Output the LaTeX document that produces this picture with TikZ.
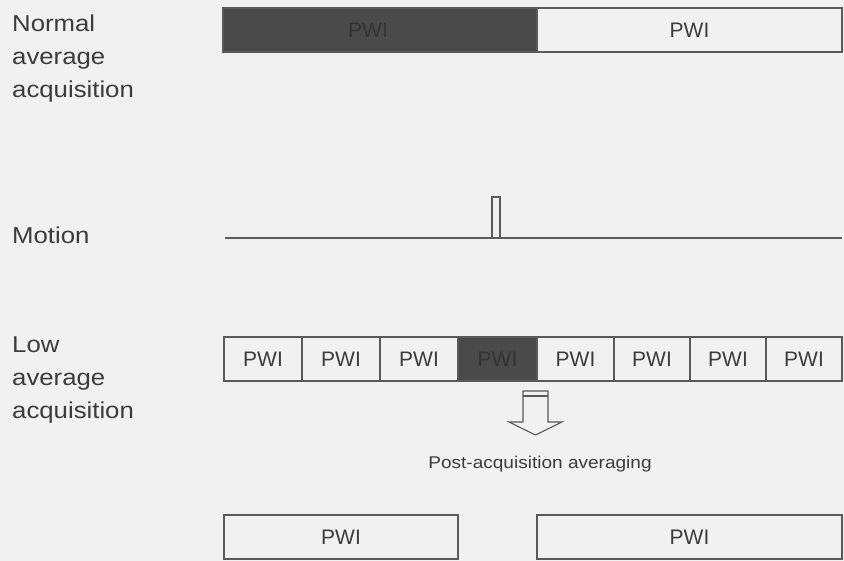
\documentclass[tikz,border=0pt]{standalone}
\usepackage{fontspec}
\setmainfont{Liberation Sans}
\newfontfamily\widefont[FakeStretch=1.12]{Liberation Sans}
\definecolor{bg}{HTML}{F1F1F1}
\definecolor{edge}{HTML}{5A5A5A}
\definecolor{ink}{HTML}{3C3C3C}
\definecolor{dark}{HTML}{4A4A4A}
\begin{document}
\begin{tikzpicture}[x=1pt,y=-1pt,
  cell/.style={draw=edge, line width=1.3pt, inner sep=0pt, outer sep=0pt,
    anchor=north west, minimum height=44pt, text=ink,
    font=\fontsize{21}{21}\selectfont},
  darkcell/.style={cell, fill=dark, text=ink!85!black},
  lab/.style={anchor=north west, align=left, inner sep=0pt, text=ink,
    font=\widefont\fontsize{23}{33}\selectfont},
  line/.style={draw=edge, line width=1.3pt}]
\fill[bg] (0,0) rectangle (844,561);
\useasboundingbox (0,0) rectangle (844,561);
% labels
\node[lab] (lnormal) at (12,15) {Normal\\average\\acquisition};
\node[lab] (lmotion) at (12,227) {Motion};
\node[lab] (llow) at (12,336) {Low\\average\\acquisition};
% normal acquisition
\node[darkcell, minimum width=314pt] (n1) at (223,8) {};
\node[cell, minimum width=305pt] (n2) at (537,8) {PWI};
\node[text=ink!85!black, font=\fontsize{21}{21}\selectfont] (n1t) at (368,30) {PWI};
% motion
\coordinate (m0) at (225,238);
\coordinate (m1) at (842,238);
\draw[line] (m0) -- (m1);
\node[draw=edge, line width=1.1pt, fill=bg, inner sep=0pt, outer sep=0pt,
  anchor=south west, minimum width=8pt, minimum height=41pt] (spike) at (492,238) {};
% low average acquisition
\node[cell, minimum width=78pt] (c1) at (224,337) {PWI};
\node[cell, minimum width=78pt] (c2) at (302,337) {PWI};
\node[cell, minimum width=78pt] (c3) at (380,337) {PWI};
\node[darkcell, minimum width=79pt] (c4) at (458,337) {PWI};
\node[cell, minimum width=77pt] (c5) at (537,337) {PWI};
\node[cell, minimum width=76pt] (c6) at (614,337) {PWI};
\node[cell, minimum width=76pt] (c7) at (690,337) {PWI};
\node[cell, minimum width=76pt] (c8) at (766,337) {PWI};
% hollow arrow
\draw[line, line width=1.1pt, fill=bg] (523,391) -- (548,391) -- (548,422) -- (562,422)
  -- (535.5,435) -- (509,422) -- (523,422) -- cycle;
\draw[line, line width=1.1pt] (523,396) -- (548,396);
\node[text=ink, font=\widefont\fontsize{17}{17}\selectfont] (post) at (540,464) {Post-acquisition averaging};
% averaged result
\node[cell, minimum width=234pt] (r1) at (224,515) {PWI};
\node[cell, minimum width=305pt] (r2) at (537,515) {PWI};
\end{tikzpicture}
\end{document}
